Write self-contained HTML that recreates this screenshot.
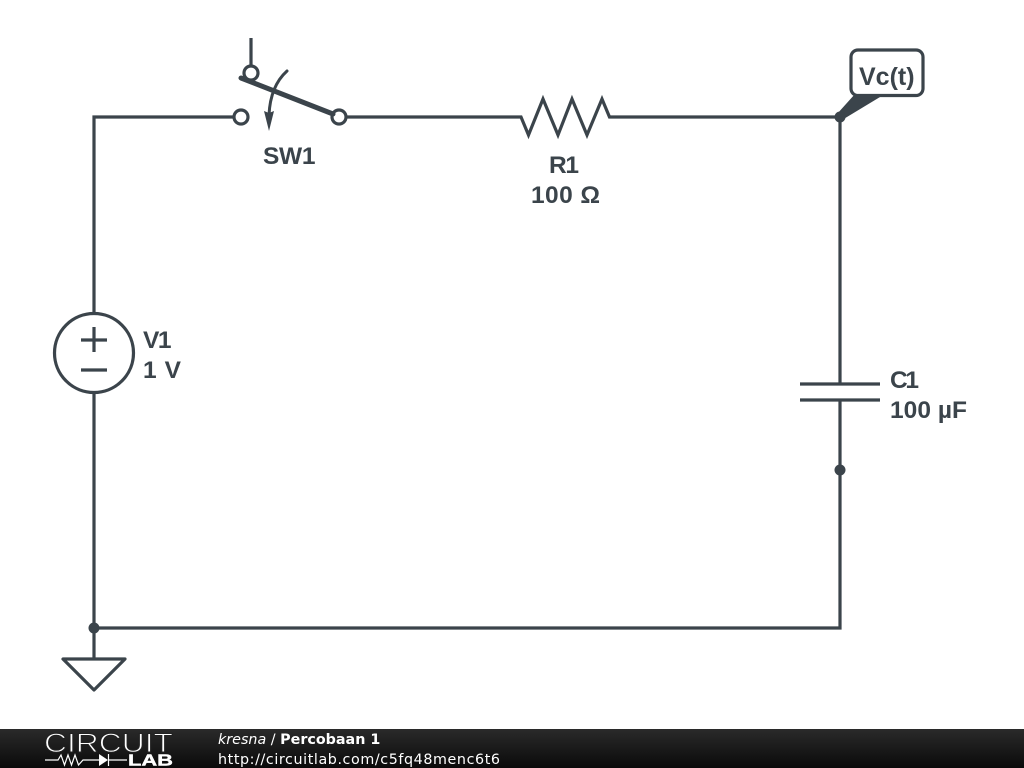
<!DOCTYPE html>
<html>
<head>
<meta charset="utf-8">
<style>
html,body{margin:0;padding:0;background:#fff;width:1024px;height:768px;overflow:hidden}
svg{display:block}
.l{font-family:"Liberation Sans",sans-serif;font-weight:700;font-size:24.500px;fill:#3b444b}
.f{font-family:"DejaVu Sans",sans-serif;font-size:14.300px;fill:#fff}
</style>
</head>
<body>
<svg width="1024" height="768" viewBox="0 0 1024 768" xmlns="http://www.w3.org/2000/svg">
<defs>
<linearGradient id="g" x1="0" y1="0" x2="0" y2="1">
<stop offset="0" stop-color="#2a2a2a"/>
<stop offset="1" stop-color="#0a0a0a"/>
</linearGradient>
</defs>
<rect width="1024" height="768" fill="#fff"/>
<g fill="none" stroke="#3b444b" stroke-width="3.200">
<path d="M94 313V117H234"/>
<path d="M346 117H521L528.500 135L543 99L558 135L572 99L587 135L602 99L609.500 117H840V384"/>
<path d="M840 400V628H94V393"/>
<path d="M94 628V659"/>
<path d="M63 659H125L94 690Z" stroke-linejoin="round"/>
<circle cx="94" cy="353" r="39.500"/>
<path d="M81 340H107M94 327V352M81 370H107"/>
<path d="M800 384H880M800 400H880"/>
<path d="M251 38V66"/>
<circle cx="251" cy="73" r="7"/>
<circle cx="241" cy="117" r="7"/>
<circle cx="339" cy="117" r="7"/>
<path d="M241 78L333 114" stroke-width="5" stroke-linecap="round"/>
<path d="M287 71C277 80 270 93 269 115" stroke-width="3" stroke-linecap="round"/>
<rect x="851" y="50" width="72" height="45.500" rx="7" fill="#fff"/>
</g>
<path d="M269 131L264 111L269 113L274 111Z" fill="#3b444b"/>
<path d="M855 94H885L842 120L837 114Z" fill="#3b444b"/>
<circle cx="840" cy="117" r="5.500" fill="#3b444b"/>
<circle cx="840" cy="470" r="5.500" fill="#3b444b"/>
<circle cx="94" cy="628" r="5.500" fill="#3b444b"/>
<text class="l" x="263" y="164" textLength="52.500">SW1</text>
<text class="l" x="549" y="173" textLength="30">R1</text>
<text class="l" x="531" y="203" textLength="69">100 Ω</text>
<text class="l" x="143" y="348" textLength="28.500">V1</text>
<text class="l" x="143" y="378" textLength="38">1 V</text>
<text class="l" x="890" y="388" textLength="29">C1</text>
<text class="l" x="890" y="418" textLength="77">100 µF</text>
<text class="l" x="859" y="85" style="font-size:25px">Vc(t)</text>
<rect x="0" y="729" width="1024" height="39" fill="url(#g)"/>
<text x="44" y="752" textLength="129" lengthAdjust="spacingAndGlyphs" font-family="Liberation Sans,sans-serif" font-size="27" fill="#fff" stroke="#222" stroke-width="1">CIRCUIT</text>
<path d="M45 760H58L61 755L64.500 765L68 755L71.500 765L75 755L78.500 765L83 760H100M108 760H127M108.500 754V766" fill="none" stroke="#fff" stroke-width="1.200"/>
<path d="M99 754L108 760L99 766Z" fill="#fff"/>
<text x="128" y="765.500" textLength="45" lengthAdjust="spacingAndGlyphs" font-family="Liberation Sans,sans-serif" font-weight="700" font-size="16" fill="#fff" stroke="#fff" stroke-width="0.400">LAB</text>
<text class="f" x="218" y="744"><tspan font-style="italic">kresna</tspan> / <tspan font-weight="700">Percobaan 1</tspan></text>
<text class="f" x="218" y="764" textLength="282">http://circuitlab.com/c5fq48menc6t6</text>
</svg>
</body>
</html>
